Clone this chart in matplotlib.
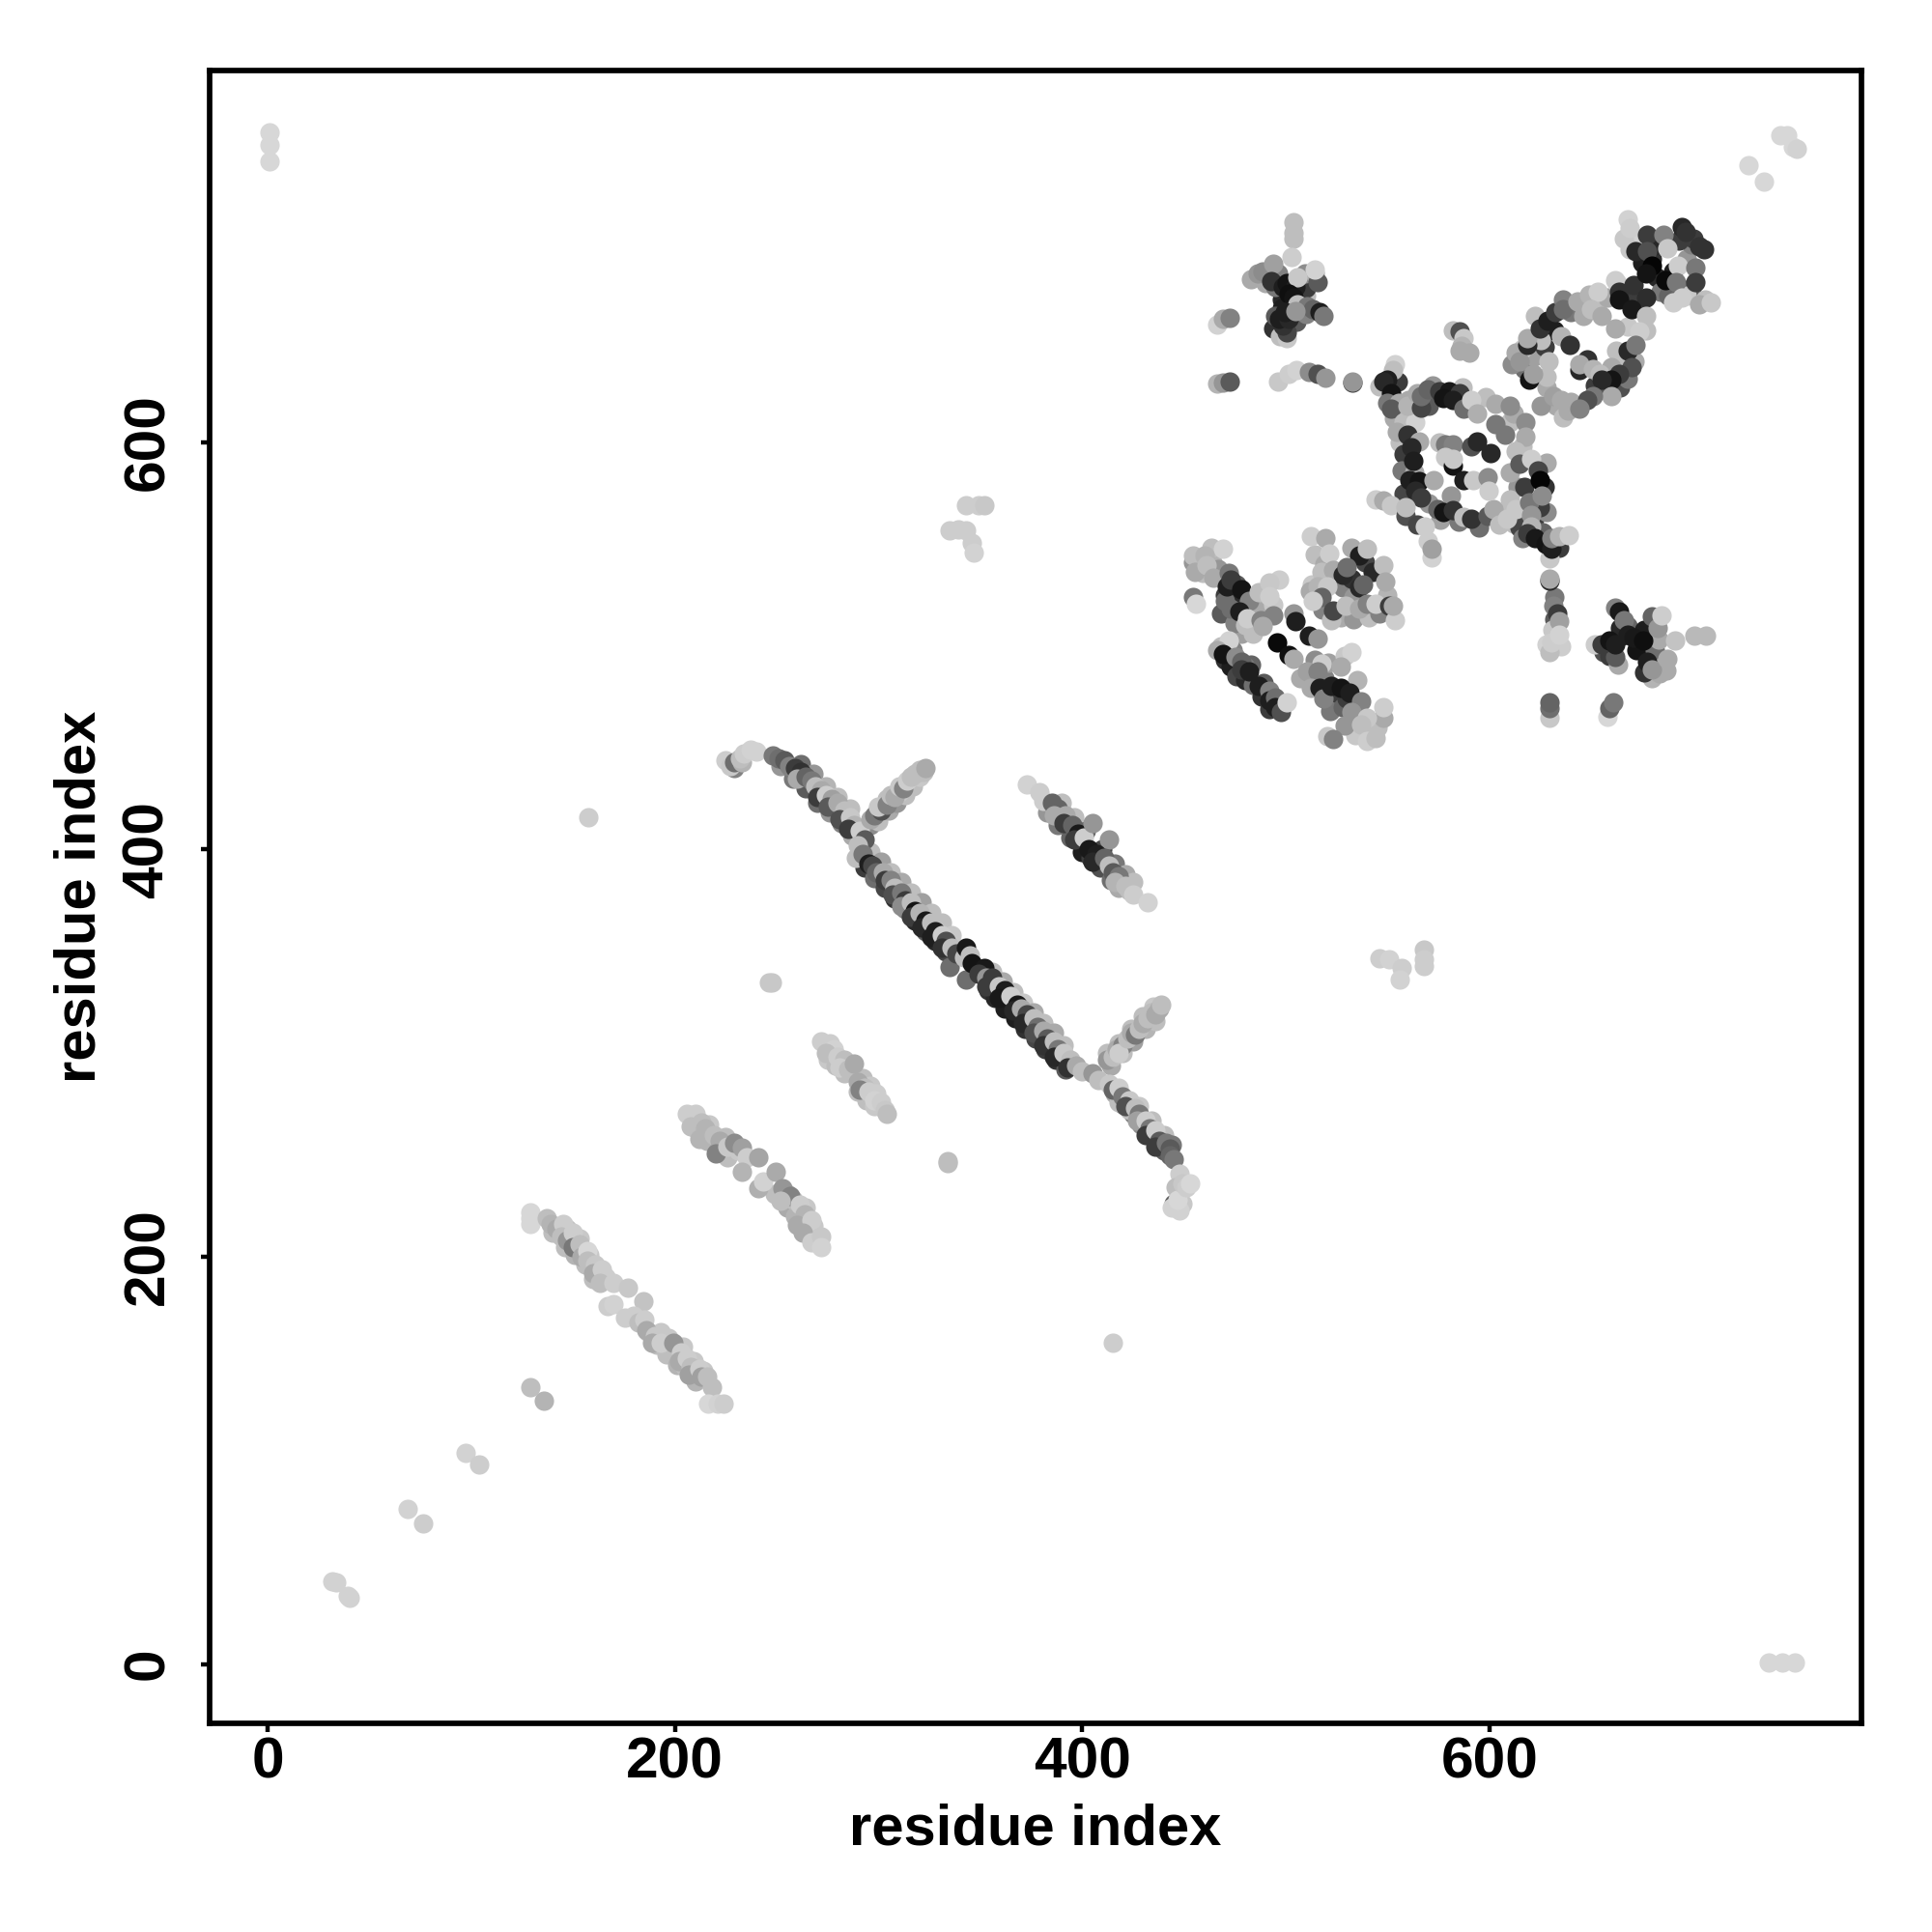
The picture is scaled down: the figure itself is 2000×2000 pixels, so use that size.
import matplotlib
matplotlib.use("Agg")
import matplotlib.pyplot as plt

# === Contacts: (residue i, residue j, grey level 0-255) ===
corners = [(1, 752, 215), (1, 746, 215), (1, 738, 215), (737, 1, 215), (744, 1, 215), (750, 1, 215),
           (727, 736, 215), (735, 728, 215), (743, 751, 215), (746, 751, 215), (749, 745, 215), (751, 744, 210)]
singles = [(32, 40.5, 210), (33.5, 40, 210), (39.3, 33.3, 210), (40.5, 32.7, 210), (69, 76.2, 210), (76.2, 69, 205),
           (97.4, 103.5, 210), (104, 98, 205), (129, 136, 190), (135.5, 129.5, 180),
           (157.3, 415.7, 205), (415, 158, 205), (246, 334.6, 200), (247.5, 334.6, 200),
           (334, 247, 190), (334, 246, 190)]
off_diag_up = [(335, 556.7, 205), (339, 557, 205), (343, 556.7, 205), (346, 550.7, 205), (346.7, 546, 210),
               (343, 569, 205), (349, 569, 205), (352, 569, 200)]
off_diag_down = [(545.8, 346.7, 205), (550.7, 346, 210), (556.7, 342, 205), (556, 336, 210),
                 (568, 351, 200), (568, 346, 205), (568, 343, 205)]

# second rows of the strands, they sit underneath the rest
under_strands = [(293, 391, 60), (298, 386, 110), (303, 381, 70), (308, 376, 50), (313, 371, 130), (318, 365, 40),
                 (323, 360, 90), (328, 355, 40), (333, 350, 70), (354, 331, 50), (357, 327, 40), (362, 322, 30),
                 (367, 317, 30), (372, 312, 50), (377, 307, 70), (382, 302, 60), (387, 297, 50), (392, 292, 90),
                 (296, 399, 190), (301, 394, 160), (306, 389, 190), (311, 384, 170), (316, 379, 190), (321, 374, 160),
                 (326, 369, 190), (331, 364, 190), (336, 358, 200), (356, 340, 190), (361, 335, 170), (366, 330, 190),
                 (371, 325, 200), (376, 320, 170), (381, 315, 190), (386, 310, 170), (391, 304, 190),
                 (252, 441, 150), (258, 435, 120), (264, 430, 90), (270, 423, 110), (276, 418, 150), (282, 413, 130),
                 (287, 407, 170), (262, 442, 110), (268, 437, 150), (274, 431, 180), (280, 426, 190), (286, 420, 190),
                 (416, 280, 170), (420, 275, 150), (425, 270, 110), (429, 265, 140), (434, 260, 80), (440, 252, 90),
                 (428, 274, 200), (434, 267, 190), (440, 260, 190), (444, 255, 120), (418, 276, 190), (423, 272, 190),
                 (296, 412, 140), (300, 414, 190), (305, 419, 170), (309, 423, 150), (313, 427, 190), (317, 431, 190),
                 (304, 425, 190), (310, 428, 200), (300, 420, 180), (320, 436, 200), (322, 438, 190),
                 (414, 294, 170), (420, 300, 190), (425, 306, 160), (431, 312, 180), (436, 316, 190),
                 (412, 300, 190), (418, 305, 190), (424, 312, 190), (430, 318, 190), (435, 323, 200),
                 (140, 212, 190), (146, 205, 190), (151, 201, 180), (156, 196, 190), (160, 189, 190), (147, 214, 190),
                 (153, 209, 200), (158, 201, 200), (191, 157, 190), (196, 152, 190), (201, 147, 180), (205, 146, 190),
                 (210, 139, 180), (187, 163, 200), (193, 163, 200), (197, 160, 200), (204, 156, 200), (209, 149, 200),
                 (214, 144, 200),
                 (211, 262, 190), (216, 257, 180), (221, 252, 170), (226, 249, 190), (217, 265, 200), (225, 259, 190),
                 (231, 252, 200), (255, 224, 170), (259, 220, 180), (262, 216, 190), (258, 228, 190), (264, 224, 200),
                 (249, 231, 190), (255, 231, 170), (268, 215, 200),
                 (275, 297, 200), (279, 294, 190), (283, 290, 190), (276, 302, 205), (290, 281, 190), (294, 277, 190),
                 (298, 274, 200), (292, 288, 190), (296, 284, 200), (299, 280, 205),
                 (383, 418, 150), (388, 412, 120), (394, 406, 100), (400, 399, 30), (404, 396, 60), (409, 391, 80),
                 (414, 385, 110), (418, 381, 170), (390, 423, 190), (396, 416, 190), (402, 409, 100), (410, 400, 70),
                 (416, 393, 120), (421, 388, 170), (425, 384, 190)]

band_b = [(129, 222, 215), (129, 219, 215), (129, 216, 215), (137, 219, 190), (139, 216, 180), (142, 214, 170),
          (145, 216, 205), (144, 210, 190), (147, 208, 150), (150, 212, 205), (150, 205, 120), (153, 206, 190),
          (154, 200, 170), (157, 203, 215), (157, 198, 190), (161, 196, 200), (160, 192, 170), (164, 194, 205),
          (166, 190, 205), (163, 187, 190), (170, 187, 205), (167, 176, 205), (170, 177, 210), (177, 185, 200),
          (184.5, 178, 195), (175.5, 170, 205), (180, 171, 205), (182, 168, 190), (185, 169, 205), (186, 164, 170),
          (190, 161, 200), (189, 158, 170), (193, 158, 205), (199, 158, 150), (203, 153, 205), (202, 149, 170),
          (206, 150, 205), (208, 146, 190), (207, 142, 160), (212, 145, 205), (213, 141, 160), (216, 141, 190),
          (218, 136, 190), (216.5, 128, 215), (221, 128, 210), (224, 128, 205)]
band_c = [(206, 270, 205), (210, 270, 205), (208, 264, 190), (213, 266, 190), (215, 263, 180), (212, 258, 180),
          (219, 260, 190), (222, 257, 170), (220, 251, 130), (226, 254, 200), (229, 256, 140), (233, 253.6, 160),
          (235.4, 249, 205), (241, 249, 165), (233, 241.6, 180), (241, 233.6, 175), (243.4, 237, 210),
          (249.5, 241.6, 170), (252.8, 233.6, 150), (256.7, 230, 130), (252, 227.5, 190), (261.5, 225.7, 205),
          (263.9, 221, 180), (260, 215.6, 170), (267, 218, 205), (263, 212, 170), (267, 207, 205),
          (271.8, 210, 200), (271.8, 205, 210)]
band_d = [(272, 306, 205), (276, 305, 205), (278, 302, 210), (274, 300, 190), (280, 298, 205), (283, 297, 190),
          (281, 293, 205), (285, 292, 190), (288, 295, 170), (290, 286, 170), (293, 283, 190), (291, 282, 130),
          (295, 281, 205), (298, 277, 210), (301, 276, 205), (303, 272, 200), (304, 270, 190)]
band_e = [(373, 432, 210), (379, 428, 205), (381, 424, 205), (385, 423, 100), (388, 420, 100), (386, 417, 170),
          (392, 417, 170), (391, 413, 60), (395, 412, 100), (398, 408, 25), (396, 405, 60), (401, 406, 205),
          (405, 413, 150), (413, 405, 150), (403, 400, 25), (407, 398, 30), (405, 394, 40), (411, 396, 100),
          (413, 392, 190), (415, 389, 90), (418, 387, 120), (416, 384, 180), (421, 382, 190), (423, 380, 190),
          (425, 378, 205), (432, 374, 210)]

band_start = [(225, 444, 205), (229, 440, 130), (227, 441, 200), (229, 443, 110), (233, 443, 180), (232, 445, 190),
              (234, 447, 205), (237, 449, 210), (240, 448, 210)]
band_upper = [(248, 446, 120), (251, 445, 110), (254, 444, 90), (256, 441, 130), (259, 440, 60), (262, 438, 50),
              (260, 435, 170), (264, 436, 100), (267, 434, 120), (269, 431, 190), (272, 429, 170), (270, 426, 60),
              (274, 427, 205), (277, 425, 160), (275, 421, 90), (280, 423, 170), (283, 419, 190), (281, 415, 80),
              (286, 416, 200), (288, 412, 180), (285, 410, 60), (291, 409, 205), (293, 405, 90), (290, 402, 190)]
branch_f = [(296, 415, 170), (298, 417, 120), (301, 419, 80), (300, 421, 200), (304, 422, 130), (306, 427, 190),
            (308, 426, 170), (310, 431, 200), (312, 430, 130), (314, 434, 205), (316, 436, 190), (318, 437, 190),
            (320, 439, 190), (323, 440, 170)]
band_mid = [(289, 396, 190), (292, 398, 120), (295, 393, 30), (297, 392, 70), (299, 389, 100), (302, 389, 170),
            (303, 385, 60), (306, 385, 130), (308, 381, 190), (307, 378, 80), (311, 379, 120), (313, 375, 60),
            (311, 372, 140), (316, 374, 190), (318, 370, 20), (316, 367, 60), (320, 369, 180), (323, 365, 25),
            (321, 362, 40), (326, 364, 190), (328, 360, 30), (326, 357, 30), (331, 358, 205), (333, 355, 80),
            (331, 352, 50), (336, 352, 190), (335, 342.5, 110), (343, 336, 110), (338, 349, 70), (342, 347, 190),
            (343, 352, 25), (345, 348, 190), (346, 344, 20), (352, 342, 25), (349, 339, 60), (353, 337, 150),
            (356, 337, 60), (353, 333, 60), (359, 333, 200), (362, 331, 30), (359, 327, 25), (365, 328, 205),
            (368, 324, 25), (366, 321, 40), (370, 322, 170), (373, 319, 70), (371, 315, 40), (376, 317, 190),
            (378, 313, 110), (376, 310, 80), (381, 311, 170), (383, 307, 90), (381, 304, 50), (386, 306, 190),
            (388, 302, 120), (386, 298, 40), (391, 300, 200), (394, 297, 190), (393, 293, 50), (397, 294, 170),
            (400, 291, 190), (405, 290, 150), (408, 287, 190)]
branch_g = [(412, 297, 150), (415, 298, 190), (417, 302, 170), (420, 304, 130), (418, 300, 205), (422, 307, 190),
            (424, 310, 170), (426, 309, 120), (428, 312, 190), (430, 315, 170), (432, 317, 190), (434, 320, 190),
            (436, 319, 170), (438, 322, 170), (439, 324, 190)]
band_lower = [(413, 285, 200), (415, 282, 100), (418, 283, 205), (420, 279, 120), (423, 277, 200), (421, 274, 80),
              (426, 273, 190), (428, 270, 120), (427, 267, 160), (431, 267, 205), (433, 263, 120), (431, 260, 60),
              (436, 262, 205), (438, 257, 90), (436, 254, 60), (441, 256, 120), (443, 253, 90), (443, 250, 100),
              (445, 248, 120), (448, 241, 205), (446, 234, 190), (445, 226, 90), (449, 226, 200), (444, 224, 210),
              (448, 223, 210), (447, 228, 215), (449, 236, 200), (451, 234, 205), (453, 236, 215)]

# extra points underneath the top right groups
under_k = [(555, 630, 60), (553, 612, 170), (556, 600, 190), (558, 594, 60), (557, 586, 120), (558, 575, 70),
           (563, 585, 170), (570, 570, 150), (576, 562, 160), (585, 561, 120), (595, 558, 110), (606, 565, 190),
           (612, 560, 190), (616, 561, 120), (622, 562, 60), (628, 566, 140), (627, 578, 50), (628, 590, 170),
           (616, 598, 190), (610, 610, 190), (612, 614, 170), (598, 622, 190), (590, 617, 160), (572, 628, 150),
           (560, 621, 170), (563, 614, 190), (570, 618, 90), (587, 627, 190),
           (614, 578, 150), (610, 572, 190), (617, 578, 60), (610, 585, 170), (634, 548, 60), (626, 556, 100),
           (615, 558, 70), (616, 553, 130)]
under_m = [(617, 636, 110), (622, 642, 160), (627, 647, 60), (632, 655, 30), (640, 664, 120), (646, 662, 170),
           (653, 668, 190), (658, 671, 170), (616, 646, 200), (625, 650, 190), (629, 640, 190), (628, 627, 170),
           (633, 618, 170), (640, 620, 170), (652, 628, 60), (656, 626, 90), (664, 627, 80),
           (668, 631, 120), (671, 640, 170), (666, 637, 190), (662, 645, 190), (668, 657, 200), (677, 655, 190),
           (668, 672, 60), (672, 668, 60), (625, 618, 150), (628, 632, 190)]
under_n = [(672, 700, 210), (666, 700, 200), (680, 690, 50), (675, 688, 30), (682, 681, 40), (690, 684, 30),
           (697, 690, 150), (699, 697, 130), (693, 699, 60), (700, 700, 60), (699, 676, 90), (697, 672, 200),
           (706, 670, 190), (684, 674, 120), (680, 696, 40), (688, 672, 100)]
under_h = [(490, 678, 170), (496, 683, 130), (483, 680, 170), (507, 678, 110), (510, 672, 190), (498, 670, 40),
           (498, 666, 30), (505, 659, 90), (494, 656, 50), (497, 652, 190), (510, 663, 130), (510, 676, 60)]
# and underneath the middle right groups
under_o = [(459, 536, 190), (464, 541, 180), (467, 538, 150), (470, 525, 60), (475, 524, 40), (480, 519, 60),
           (476, 530, 90), (484, 517, 150), (487, 519, 170), (478, 506, 160), (484, 506, 190), (492, 518, 170),
           (468, 516, 90), (470, 522, 110), (494, 520, 200), (475, 511, 130)]
under_p = [(470, 493, 50), (473, 490, 30), (476, 485, 70), (480, 483, 40), (484, 481, 110), (488, 475, 50),
           (492, 469, 60), (483, 491, 100), (489, 482, 90), (496, 473, 80), (468, 500, 190), (474, 498, 130),
           (480, 490, 120)]
under_q = [(507, 484, 170), (512, 484, 170), (519, 484, 130), (524, 475, 60), (522, 468, 120), (528, 470, 100),
           (535, 463, 170), (530, 474, 60), (541, 458, 200), (545, 460, 190), (534, 456, 200), (529, 461, 150),
           (518, 478, 100), (535, 483, 180), (521, 492, 160), (529, 495, 200)]
under_r = [(514, 545, 190), (519, 540, 170), (513, 530, 200), (528, 529, 130), (533, 524, 150),
           (532, 533, 50), (539, 541, 70), (512, 527, 170), (518, 518, 130), (527, 514, 170), (533, 513, 150),
           (541, 514, 190), (546, 516, 130), (550, 525, 180)]
under_t = [(656, 497, 80), (659, 495, 60), (665, 505, 40), (668, 510, 100), (672, 498, 20), (676, 508, 30),
           (677, 497, 20), (681, 495, 50), (681, 498, 110), (685, 490, 170), (680, 484, 180), (676, 487, 50),
           (683, 503, 170), (664, 509, 40), (663, 491, 170), (687, 488, 170)]
under_s = [(632, 513, 90), (631, 508, 200), (628, 501, 210), (635, 500, 205), (632, 524, 120)]

# top right groups
cluster_h = [(504, 708, 190), (504, 703, 190), (504, 700, 190), (502.6, 691, 205), (486, 683, 150), (488.4, 684, 140),
             (493.7, 687.5, 160), (509.5, 682.8, 140), (514.4, 682.8, 170), (515.4, 678.8, 90), (514.4, 685, 210),
             (494.7, 676.5, 120), (492.8, 679, 50), (498.7, 676.5, 30), (500.6, 678, 20), (504.6, 676.5, 30),
             (505.5, 681, 200), (501.6, 673, 15), (503.6, 671, 20), (505.5, 667.8, 190), (510.5, 667, 120),
             (513.4, 665.4, 100), (516.4, 663.8, 30), (518.3, 662, 120), (494.7, 662, 90), (500.6, 651, 200),
             (500.6, 654, 70), (498.7, 657.5, 50), (496.7, 660.6, 30), (501.6, 660.6, 40), (499.6, 663.8, 30),
             (504.6, 664.6, 150)]
cluster_i = [(466.2, 658, 210), (469.2, 660.6, 170), (472.5, 661, 130)]
cluster_j = [(466.2, 629, 180), (469.2, 629.3, 150), (472.5, 630, 90), (496.3, 629.8, 200), (501.6, 633.8, 205),
             (505, 635.3, 210), (511.4, 634.5, 140), (515.4, 633.8, 80), (519.3, 631.9, 150), (532.5, 629.2, 60),
             (532.5, 629.8, 150)]
cluster_k = [(553.7, 638.5, 210), (552.7, 635.3, 190), (545.9, 627.4, 190), (549.8, 630.6, 30), (547.8, 629.8, 40),
             (551.8, 624.3, 20), (549.8, 619.5, 120), (555.7, 619.5, 170), (551.8, 616.4, 90), (557.7, 610, 190),
             (563.6, 610, 210), (554.7, 605.3, 170), (559.6, 603.7, 50), (565.5, 600.6, 170), (561.6, 597.4, 40),
             (562.6, 591, 30), (560.6, 581.6, 30), (565.5, 580.8, 20), (572.4, 581.6, 170), (563.6, 576, 40),
             (566.5, 572.9, 60), (574.4, 567.3, 100), (581.3, 573.7, 150), (577.3, 565.8, 20), (582.2, 566.6, 50),
             (587.2, 563.4, 190), (591.1, 562.6, 50), (599, 564, 90), (602, 567.3, 170), (604.9, 559.4, 190),
             (608.8, 562.6, 200), (612.7, 567.3, 200),
             (559.6, 618, 180), (566.5, 617, 70), (564.5, 624, 170), (566.5, 622.7, 110), (569.5, 625.8, 100),
             (575.4, 625, 60), (580.3, 625, 25), (585.2, 624.3, 60), (577.3, 621.9, 20), (582.2, 621, 30),
             (587.2, 616.4, 110), (591.1, 621, 205), (594, 614, 175),
             (602.9, 618.7, 170), (609.8, 618, 140), (602.9, 609, 120), (617.6, 610, 140), (607.8, 603.7, 120),
             (617.6, 602.9, 170), (612.7, 595.8, 190), (614.7, 589.5, 90), (620.6, 591.8, 205), (623.6, 586.3, 70),
             (624.5, 581.6, 5), (624.5, 568, 60), (619.6, 570.5, 120), (625.5, 573.7, 140), (620.6, 564.2, 150),
             (620.6, 558.6, 180),
             (575.4, 599.8, 190), (578.3, 599, 120), (582.2, 599, 130), (591.1, 598.2, 80), (594, 600.6, 40),
             (600.5, 594.5, 40), (578.3, 592.6, 200), (582.2, 588.7, 20), (582.2, 591.8, 200), (587.2, 581.6, 30),
             (592, 581.6, 200), (599, 583, 140), (599.6, 576, 205),
             (618.6, 555.5, 60), (622.5, 553, 25), (629.5, 542.8, 200), (627.5, 550, 20), (630.4, 547.6, 30),
             (630.4, 553, 130), (634.3, 553.9, 180), (639.2, 554.2, 205),
             (543.9, 572, 205), (547.8, 571.3, 170), (551.8, 569, 200), (558.6, 564, 80), (558.6, 568, 190),
             (564.5, 559.4, 70), (568.5, 558.6, 205), (569.5, 551.5, 205), (571.4, 543.6, 210), (571.4, 547.6, 160)]
cluster_l = [(582.2, 655, 190), (585.2, 654.3, 80), (587.2, 651, 200), (586.2, 647.2, 180), (585.2, 644.8, 170),
             (590.1, 644, 170)]
cluster_m = [(610.8, 638.5, 140), (612.7, 644, 170), (614.7, 640, 150), (619.6, 630.6, 20), (621.6, 633.8, 160),
             (618.6, 648, 40), (618.6, 651.2, 170), (622.5, 662, 190), (624.5, 655.9, 50), (628.5, 659.8, 30),
             (632.4, 663.8, 60), (636.3, 670, 130), (636.3, 665.4, 110), (643.2, 669.3, 170), (649, 672.5, 180),
             (653, 674, 205), (650, 665.4, 190), (655, 662.2, 170), (661.9, 679.6, 205), (662.8, 678, 205),
             (663.8, 674, 50), (663.8, 670, 20), (670.7, 677.2, 50), (677, 671, 45), (669.7, 665.4, 25),
             (676.7, 662.2, 190), (635.3, 652, 180), (639.3, 648, 50), (644.2, 635.3, 40), (648.1, 640.9, 50),
             (644.2, 638.5, 170), (651, 636, 180), (661.9, 655.9, 170), (673.7, 654.3, 205), (667.8, 644.8, 40),
             (671.7, 648, 120), (669.7, 636.9, 80), (659.9, 636.9, 170), (663.8, 633.8, 60), (654, 633.8, 190),
             (659.9, 630.6, 20), (655, 630.6, 40), (659.9, 622.7, 170), (651, 622.7, 120), (648.1, 621, 80),
             (631.4, 622.7, 160), (635.3, 621, 170), (636.3, 612.4, 190), (638.3, 615.6, 170), (644.2, 616.4, 130)]
cluster_n = [(667.8, 709.7, 210), (668.8, 705, 205), (668.8, 694.6, 200), (671.7, 693.8, 40), (677.6, 701.8, 60),
             (677.6, 693.8, 80), (685.5, 701.8, 130), (687.5, 695.4, 200), (694.3, 705.7, 40), (696.3, 703.3, 50),
             (703.2, 696.2, 50), (705.2, 694.6, 50), (679.6, 686.7, 5), (676.7, 682.8, 20), (686.5, 679.6, 10),
             (692.4, 686.7, 205), (691.4, 678.8, 120), (701.2, 686, 120), (701.2, 678.8, 60), (694.3, 670.9, 205),
             (690.4, 668.5, 205), (703.2, 667.8, 170), (708.5, 668.5, 200)]

# middle right groups
cluster_o = [(454.4, 541.2, 150), (454.4, 544.4, 190), (463.3, 548.4, 190), (469.2, 547.9, 210), (460.3, 544.4, 180),
             (455.4, 536.5, 170), (461.3, 539.7, 190), (464.2, 533.3, 170), (472.1, 535.7, 120), (471.1, 529.4, 30),
             (473.1, 532.5, 60), (478, 527.8, 20), (482, 522.3, 130), (486.9, 526.2, 190), (496.7, 532.5, 205),
             (491.8, 531, 200), (491.8, 524.6, 205), (473.1, 518.3, 110), (477, 516.7, 30), (480, 510.4, 190),
             (481, 513.6, 205), (487.8, 512.8, 130), (493.8, 514.8, 130), (488.8, 509.6, 170),
             (454.4, 523.9, 120), (455.8, 520.7, 215)]
cluster_strip = [(503.6, 516, 150), (504.6, 512, 30), (511.4, 504.9, 30), (515.4, 503.8, 150), (495.7, 501.7, 10),
                 (501.6, 495.4, 15), (503.6, 493.8, 170)]
cluster_p = [(472.1, 502.5, 210), (466.2, 497.8, 170), (469.2, 496.2, 20), (475.1, 494.6, 140), (478, 492.2, 100),
             (478, 488.3, 60), (482, 487.5, 30), (486.9, 480.4, 30), (491.8, 478, 130), (491.8, 473.2, 30),
             (494.7, 474.8, 110), (494.7, 470.1, 30), (497.7, 467.7, 80), (500.6, 472.5, 210)]
cluster_q = [(514.4, 493, 140), (517.3, 491.4, 205), (532.1, 497, 210), (510.5, 487.5, 160), (515.4, 487.5, 130),
             (527.2, 489.9, 170), (512.4, 479.6, 170), (516.4, 479.6, 30), (518.3, 474, 130), (522.3, 480.4, 30),
             (527.2, 479.6, 20), (531.1, 477.2, 30), (537, 472.8, 130), (532.1, 467.7, 150), (547.8, 464.6, 170),
             (547.8, 470.1, 205), (540, 464.6, 200), (537, 461.4, 190), (540, 453.5, 205), (543.9, 454.8, 190),
             (520.3, 455.9, 200), (523.2, 454.3, 130)]
cluster_r = [(512.4, 553.9, 205), (519.3, 553.1, 170), (521.3, 545.2, 205), (517.3, 536.5, 190), (532.1, 548.4, 170),
             (536, 544.4, 30), (540, 547.6, 190), (523.2, 537.3, 170), (528.2, 534.9, 40), (530.1, 538.9, 110),
             (542.9, 536.5, 40), (547.8, 539.7, 190), (536, 528.6, 40), (538, 530.2, 100), (548.8, 531.8, 170),
             (515.4, 529.4, 180), (520.3, 529.4, 200), (517.3, 523.8, 100), (513.4, 522.3, 205), (522.3, 512.8, 190),
             (523.2, 517.5, 70), (529.2, 519.9, 190), (536, 518.3, 170), (540, 520.7, 130), (543.9, 520.7, 205),
             (550.8, 519.9, 60), (553.7, 512.8, 205), (552.7, 519.9, 170)]
cluster_s = [(629.5, 532.2, 40), (629.5, 532.8, 170), (631.4, 519.9, 130), (633.4, 516, 60), (634.3, 512, 160),
             (629.5, 497, 190), (630.4, 501.7, 205), (634.3, 505.7, 210), (629.5, 464.5, 200), (629.5, 469.3, 110),
             (629.5, 472.5, 100), (657.9, 465.3, 215), (659, 469.3, 100), (660.9, 472.5, 120)]
cluster_t = [(661.9, 519, 130), (663.8, 516.7, 25), (665.8, 512.8, 120), (652, 501, 205), (661.9, 494.6, 90),
             (655, 501, 60), (659, 502.5, 20), (661.9, 501, 30), (667.8, 505.7, 30), (670.7, 504.1, 25),
             (675.7, 502.5, 15), (679.6, 514.4, 100), (682.5, 508.8, 150), (684.5, 515.2, 205), (677.6, 492.2, 30),
             (683.5, 486.7, 170), (679.6, 488.3, 150), (687.5, 493.8, 170), (691, 502.8, 195), (700.8, 505, 185),
             (706.2, 505, 185)]

groups = [under_strands, under_k, under_m, under_n, under_h, under_o, under_p, under_q, under_r, under_t, under_s,
          corners, singles, off_diag_up, off_diag_down, band_b, band_c, band_d, band_e, band_start, band_upper,
          branch_f, band_mid, branch_g, band_lower, cluster_h, cluster_i, cluster_j, cluster_k, cluster_l,
          cluster_m, cluster_n, cluster_o, cluster_strip, cluster_p, cluster_q, cluster_r, cluster_s, cluster_t]
tick_values = [0, 200, 400, 600]
axis_label = "residue index"

plt.rcParams['font.family'] = ['Liberation Sans', 'DejaVu Sans']
plt.rcParams['font.weight'] = 'bold'

fig = plt.figure(figsize=(20, 20), dpi=100)
ax = fig.add_axes([0.10825, 0.108, 0.85525, 0.85565])

for group in groups:
    for x, y, shade in group:
        ax.scatter(x, y, s=210, color=(shade / 255, shade / 255, shade / 255), linewidths=0)

ax.set_xlim(-28.7, 782.7)
ax.set_ylim(-29.1, 782.7)
ax.set_xticks(tick_values)
ax.set_yticks(tick_values)
ax.tick_params(axis='x', length=6.5, width=3.2, labelsize=43.5, pad=3)
ax.tick_params(axis='y', length=6.5, width=3.2, labelsize=43.5, pad=19)
for lab in ax.get_yticklabels():
    lab.set_rotation(90)
    lab.set_va('center')

for side in ax.spines.values():
    side.set_linewidth(4.1)

ax.set_xlabel(axis_label, fontsize=43, fontweight='bold', va='center')
ax.set_ylabel(axis_label, fontsize=43, fontweight='bold', va='center')
ax.xaxis.set_label_coords(0.5, -0.0645)
ax.yaxis.set_label_coords(-0.0783, 0.5)

plt.savefig("out.png", dpi=100, facecolor='white')
plt.close()
